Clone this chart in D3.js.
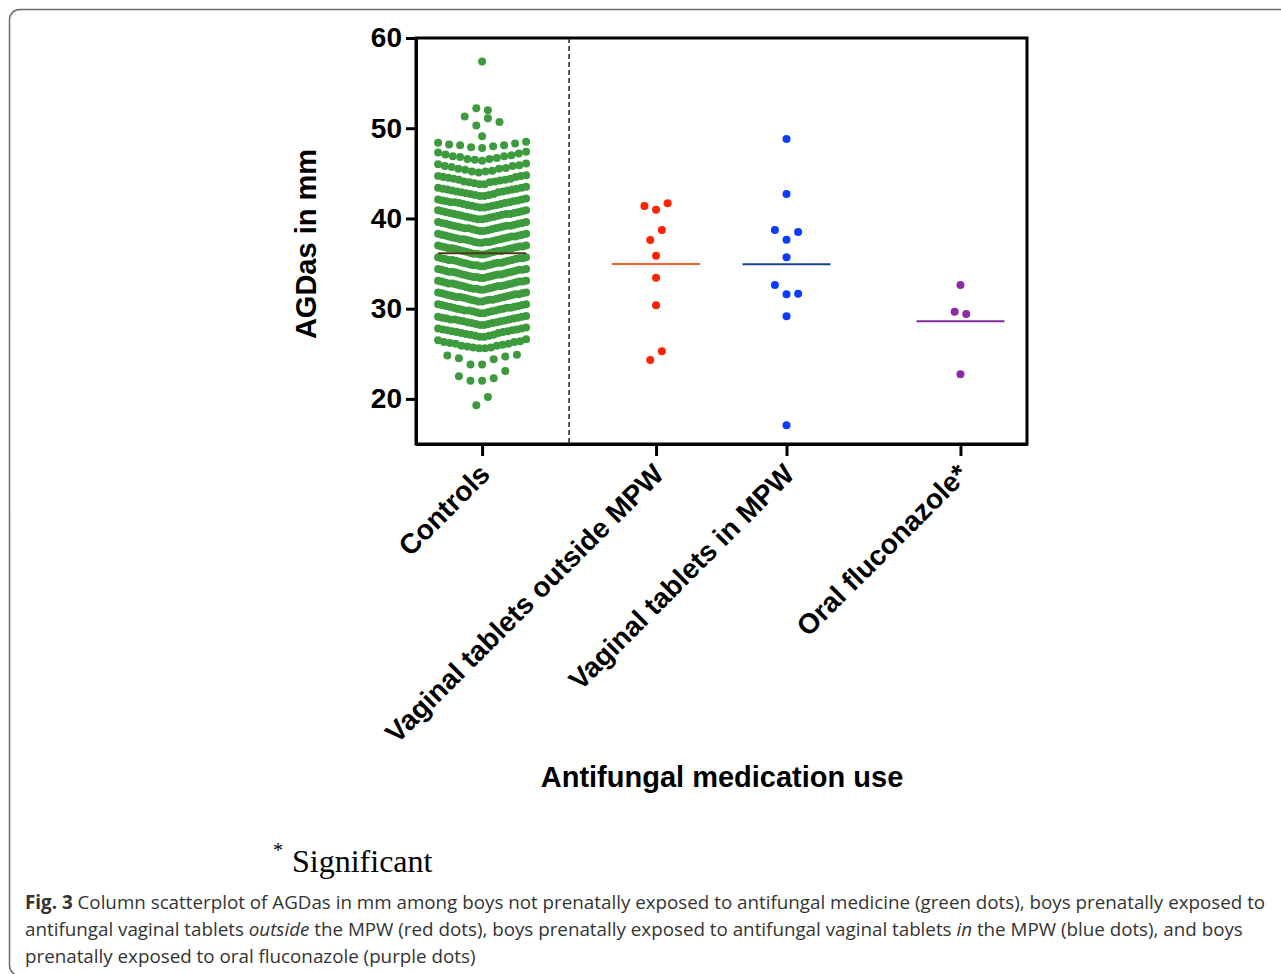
<!DOCTYPE html>
<html>
<head>
<meta charset="utf-8">
<script src="https://cdn.jsdelivr.net/npm/d3@7"></script>
<style>
  body { margin: 0; background: #fff; }
  svg { display: block; }
  .axis path, .axis line { stroke: #000; stroke-width: 3; }
  .axis text { font-family: "Liberation Sans", Arial, sans-serif; font-weight: bold; font-size: 28px; fill: #000; }
  .title { font-family: "Liberation Sans", Arial, sans-serif; font-weight: bold; font-size: 29px; fill: #000; }
  .caption { font-family: "Open Sans", sans-serif; font-size: 18.8px; fill: #333; }
</style>
</head>
<body>
<svg id="chart"></svg>
<script>

/// DATA ////////////////////////////////////////////////////////////////////////////////

var categories = ["Controls", "Vaginal tablets outside MPW", "Vaginal tablets in MPW", "Oral fluconazole*"];

// AGDas (mm), controls listed low to high inside each row of the swarm
var controls = [
  19.3, 20.2,
  22.0, 22.0, 22.3, 22.5, 23.1,
  23.8, 23.8, 24.4, 24.5, 24.7, 24.8, 24.9,
  25.6, 25.6, 25.7, 25.7, 25.8, 25.9, 25.9, 26.0, 26.1, 26.1, 26.2, 26.3, 26.3, 26.4, 26.5, 26.6,
  26.9, 26.9, 27.0, 27.0, 27.1, 27.1, 27.2, 27.3, 27.3, 27.4, 27.4, 27.5, 27.5, 27.6, 27.6, 27.7, 27.7, 27.8, 27.8, 27.9,
  28.2, 28.2, 28.3, 28.3, 28.4, 28.4, 28.5, 28.5, 28.6, 28.6, 28.7, 28.7, 28.8, 28.8, 28.8, 28.9, 28.9, 29.0, 29.0, 29.1, 29.1, 29.2,
  29.5, 29.5, 29.6, 29.6, 29.7, 29.7, 29.8, 29.8, 29.8, 29.9, 29.9, 30.0, 30.0, 30.1, 30.1, 30.1, 30.2, 30.2, 30.3, 30.3, 30.4, 30.4, 30.5, 30.5,
  30.8, 30.8, 30.9, 30.9, 31.0, 31.0, 31.0, 31.1, 31.1, 31.2, 31.2, 31.3, 31.3, 31.3, 31.4, 31.4, 31.5, 31.5, 31.6, 31.6, 31.6, 31.7, 31.7, 31.8, 31.8,
  32.1, 32.1, 32.2, 32.2, 32.2, 32.3, 32.3, 32.4, 32.4, 32.5, 32.5, 32.5, 32.6, 32.6, 32.7, 32.7, 32.8, 32.8, 32.8, 32.9, 32.9, 33.0, 33.0, 33.0, 33.1, 33.1,
  33.4, 33.4, 33.5, 33.5, 33.5, 33.6, 33.6, 33.7, 33.7, 33.8, 33.8, 33.8, 33.9, 33.9, 34.0, 34.0, 34.1, 34.1, 34.1, 34.2, 34.2, 34.3, 34.3, 34.3, 34.4, 34.4,
  34.7, 34.7, 34.8, 34.8, 34.8, 34.9, 34.9, 35.0, 35.0, 35.1, 35.1, 35.1, 35.2, 35.2, 35.3, 35.3, 35.4, 35.4, 35.4, 35.5, 35.5, 35.6, 35.6, 35.6, 35.7, 35.7,
  36.0, 36.0, 36.1, 36.1, 36.1, 36.2, 36.2, 36.3, 36.3, 36.4, 36.4, 36.4, 36.5, 36.5, 36.6, 36.6, 36.7, 36.7, 36.7, 36.8, 36.8, 36.9, 36.9, 36.9, 37.0, 37.0,
  37.3, 37.3, 37.4, 37.4, 37.4, 37.5, 37.5, 37.6, 37.6, 37.7, 37.7, 37.7, 37.8, 37.8, 37.9, 37.9, 38.0, 38.0, 38.0, 38.1, 38.1, 38.2, 38.2, 38.3, 38.3,
  38.6, 38.6, 38.7, 38.7, 38.8, 38.8, 38.9, 38.9, 38.9, 39.0, 39.0, 39.1, 39.1, 39.2, 39.2, 39.2, 39.3, 39.3, 39.4, 39.4, 39.5, 39.5, 39.6, 39.6,
  39.9, 39.9, 40.0, 40.0, 40.1, 40.1, 40.2, 40.2, 40.3, 40.3, 40.4, 40.4, 40.5, 40.5, 40.5, 40.6, 40.6, 40.7, 40.7, 40.8, 40.8, 40.9, 40.9,
  41.2, 41.2, 41.3, 41.3, 41.4, 41.4, 41.5, 41.5, 41.6, 41.6, 41.7, 41.7, 41.8, 41.8, 41.8, 41.9, 41.9, 42.0, 42.0, 42.1, 42.1, 42.2,
  42.5, 42.5, 42.6, 42.6, 42.7, 42.7, 42.8, 42.9, 42.9, 43.0, 43.0, 43.1, 43.1, 43.2, 43.2, 43.3, 43.3, 43.4, 43.4, 43.5,
  43.8, 43.8, 43.9, 44.0, 44.0, 44.1, 44.1, 44.2, 44.3, 44.3, 44.4, 44.4, 44.5, 44.6, 44.6, 44.7, 44.7, 44.8,
  45.1, 45.2, 45.2, 45.3, 45.4, 45.5, 45.5, 45.6, 45.7, 45.8, 45.8, 45.9, 46.0, 46.1,
  46.4, 46.5, 46.6, 46.6, 46.7, 46.8, 46.9, 46.9, 47.0, 47.1, 47.2, 47.3, 47.4,
  47.8, 47.9, 48.0, 48.1, 48.1, 48.2, 48.3, 48.4, 48.5,
  49.1,
  50.3, 51.1, 51.3, 50.7,
  52.2, 52.0,
  57.4
];
var outsideMPW = [24.31, 25.27, 30.37, 33.43, 35.87, 37.61, 38.72, 40.97, 41.38, 41.68];
var inMPW = [17.07, 29.15, 31.59, 32.62, 31.66, 35.69, 37.64, 38.72, 38.50, 42.71, 48.81];
var fluconazole = [22.73, 29.66, 29.41, 32.62];

var yTicks = [20, 30, 40, 50, 60];

/// SETUP ///////////////////////////////////////////////////////////////////////////////

var WIDTH = 1281, HEIGHT = 974;
var PLOT_LEFT = 416, PLOT_RIGHT = 1027, PLOT_TOP = 38, PLOT_BOTTOM = 444;
var DOT_R = 4;
var DOT_STEP = 11.6;     // horizontal gap between dots in a sparse row
var SWARM_HALF = 44;     // half width of a column
var ROW_H = 1.18;        // mm, values closer than this share a row

var groupSlots = [0, 4, 7, 11];   // column positions along the x axis
var dividerSlot = 2;
var dotColors = ["#3d9b3d", "#ff2200", "#0a3cff", "#8e2aa8"];
var lineColors = ["#4f3a14", "#f2642a", "#1b448f", "#7d2a96"];

var groups = [controls, outsideMPW, inMPW, fluconazole];

var svg = d3.select("#chart").attr("width", WIDTH).attr("height", HEIGHT);

var x = d3.scaleLinear().domain([-1.52, 12.53]).range([PLOT_LEFT, PLOT_RIGHT]);
var y = d3.scaleLinear().domain([15, 60]).range([PLOT_BOTTOM, PLOT_TOP]);

// rows built from the bottom, dots spread from the centre out in data order
function swarm(values) {
    var idx = d3.range(values.length).sort(function (a, b) { return values[a] - values[b] || a - b; });
    var rows = [], row = null;
    idx.forEach(function (i) {
        if (!row || values[i] >= row.start + ROW_H) {
            row = { start: values[i], members: [] };
            rows.push(row);
        }
        row.members.push(i);
    });
    var out = [];
    rows.forEach(function (r) {
        r.members.sort(function (a, b) { return a - b; });
        var n = r.members.length;
        var step = n > 1 ? Math.min(DOT_STEP, SWARM_HALF * 2 / (n - 1)) : 0;
        r.members.forEach(function (i, k) {
            var slot;
            if (n % 2) slot = k === 0 ? 0 : (k % 2 ? -1 : 1) * Math.ceil(k / 2);
            else slot = (k % 2 ? 1 : -1) * (Math.floor(k / 2) + 0.5);
            out.push({ value: values[i], dx: slot * step });
        });
    });
    return out;
}

/// FRAME ///////////////////////////////////////////////////////////////////////////////

svg.append("rect")
    .attr("x", 9.5).attr("y", 9.5)
    .attr("width", 1320).attr("height", 966)
    .attr("rx", 10)
    .attr("fill", "none")
    .attr("stroke", "#6b6b6b")
    .attr("stroke-width", 1.5);

/// PLOT ////////////////////////////////////////////////////////////////////////////////

var g = svg.append("g");

// plot box
g.append("rect")
    .attr("x", PLOT_LEFT).attr("y", PLOT_TOP)
    .attr("width", PLOT_RIGHT - PLOT_LEFT).attr("height", PLOT_BOTTOM - PLOT_TOP)
    .attr("fill", "none")
    .attr("stroke", "#000")
    .attr("stroke-width", 3);

// dashed divider after the controls
g.append("line")
    .attr("x1", x(dividerSlot)).attr("x2", x(dividerSlot))
    .attr("y1", PLOT_TOP).attr("y2", PLOT_BOTTOM)
    .attr("stroke", "#222")
    .attr("stroke-width", 1.5)
    .attr("stroke-dasharray", "5,3");

groups.forEach(function (values, gi) {
    var cx = x(groupSlots[gi]);

    g.append("g").selectAll("circle")
        .data(swarm(values))
        .enter()
        .append("circle")
            .attr("cx", function (d) { return cx + d.dx; })
            .attr("cy", function (d) { return y(d.value); })
            .attr("r", DOT_R)
            .attr("fill", dotColors[gi]);

    // mean line
    g.append("line")
        .attr("x1", cx - SWARM_HALF).attr("x2", cx + SWARM_HALF)
        .attr("y1", y(d3.mean(values))).attr("y2", y(d3.mean(values)))
        .attr("stroke", lineColors[gi])
        .attr("stroke-width", 2);
});

// Y-axis
g.append("g")
    .attr("class", "axis")
    .attr("transform", "translate(" + PLOT_LEFT + ",0)")
    .call(d3.axisLeft(y).tickValues(yTicks).tickSize(10).tickSizeOuter(0).tickPadding(4));

// X-axis
var xAxis = g.append("g")
    .attr("class", "axis")
    .attr("transform", "translate(0," + PLOT_BOTTOM + ")")
    .call(d3.axisBottom(x).tickValues(groupSlots).tickSize(12).tickSizeOuter(0)
        .tickFormat(function (s, i) { return categories[i]; }));

xAxis.selectAll("text")
    .attr("x", 0).attr("y", 0).attr("dy", 0)
    .attr("transform", "translate(9,32) rotate(-45)")
    .style("text-anchor", "end")
    .style("font-size", "28px");

// axis titles
svg.append("text")
    .attr("class", "title")
    .attr("transform", "translate(316,244) rotate(-90)")
    .attr("text-anchor", "middle")
    .text("AGDas in mm");

svg.append("text")
    .attr("class", "title")
    .attr("x", 722).attr("y", 787)
    .attr("text-anchor", "middle")
    .text("Antifungal medication use");

/// NOTE + CAPTION //////////////////////////////////////////////////////////////////////

var note = svg.append("text")
    .attr("x", 273).attr("y", 872)
    .style("font-family", "'Liberation Serif', 'Times New Roman', serif")
    .style("font-size", "32px")
    .attr("fill", "#000");
note.append("tspan").attr("dy", -15).style("font-size", "20px").text("*");
note.append("tspan").attr("x", 292).attr("dy", 15).text("Significant");

var captionLines = [
    [["b", "Fig. 3"], ["n", " Column scatterplot of AGDas in mm among boys not prenatally exposed to antifungal medicine (green dots), boys prenatally exposed to"]],
    [["n", "antifungal vaginal tablets "], ["i", "outside"], ["n", " the MPW (red dots), boys prenatally exposed to antifungal vaginal tablets "], ["i", "in"], ["n", " the MPW (blue dots), and boys"]],
    [["n", "prenatally exposed to oral fluconazole (purple dots)"]]
];

captionLines.forEach(function (parts, li) {
    var t = svg.append("text")
        .attr("class", "caption")
        .attr("x", 25).attr("y", 909 + li * 27);
    parts.forEach(function (p) {
        t.append("tspan")
            .style("font-weight", p[0] === "b" ? "bold" : null)
            .style("font-style", p[0] === "i" ? "italic" : null)
            .text(p[1]);
    });
});

</script>
</body>
</html>
